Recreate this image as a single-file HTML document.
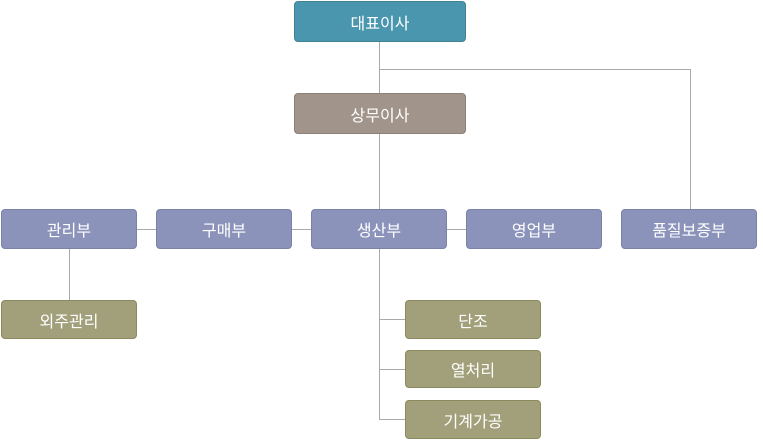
<!DOCTYPE html>
<html><head><meta charset="utf-8"><style>
body{margin:0;width:763px;height:440px;background:#fff;position:relative;overflow:hidden;font-family:"Liberation Sans","Noto Sans CJK KR",sans-serif}
.b{position:absolute;box-sizing:border-box;border-radius:4px;color:#fff;font-size:16px;display:flex;align-items:center;justify-content:center}
.t{background:#4a96ae;border:1px solid #3f8190}
.g{background:#a1948a;border:1px solid #8c8079}
.p{background:#8b93bb;border:1px solid #7b82a8}
.o{background:#a1a07a;border:1px solid #8c8a5c}
.l{position:absolute;background:#aaa}
</style></head><body>
<div class="l" style="left:379px;top:42px;width:1px;height:167px"></div>
<div class="l" style="left:379px;top:69px;width:312px;height:1px"></div>
<div class="l" style="left:690px;top:69px;width:1px;height:140px"></div>
<div class="l" style="left:137px;top:229px;width:329px;height:1px"></div>
<div class="l" style="left:69px;top:249px;width:1px;height:51px"></div>
<div class="l" style="left:379px;top:249px;width:1px;height:170px"></div>
<div class="l" style="left:379px;top:319px;width:26px;height:1px"></div>
<div class="l" style="left:379px;top:369px;width:26px;height:1px"></div>
<div class="l" style="left:379px;top:419px;width:26px;height:1px"></div>
<div class="b t" style="left:294px;top:1px;width:172px;height:41px">대표이사</div>
<div class="b g" style="left:294px;top:93px;width:172px;height:41px">상무이사</div>
<div class="b p" style="left:1px;top:209px;width:136px;height:40px">관리부</div>
<div class="b p" style="left:156px;top:209px;width:136px;height:40px">구매부</div>
<div class="b p" style="left:311px;top:209px;width:136px;height:40px">생산부</div>
<div class="b p" style="left:466px;top:209px;width:136px;height:40px">영업부</div>
<div class="b p" style="left:621px;top:209px;width:136px;height:40px">품질보증부</div>
<div class="b o" style="left:1px;top:300px;width:136px;height:39px">외주관리</div>
<div class="b o" style="left:405px;top:300px;width:136px;height:39px">단조</div>
<div class="b o" style="left:405px;top:350px;width:136px;height:38px">열처리</div>
<div class="b o" style="left:405px;top:400px;width:136px;height:39px">기계가공</div>
</body></html>
